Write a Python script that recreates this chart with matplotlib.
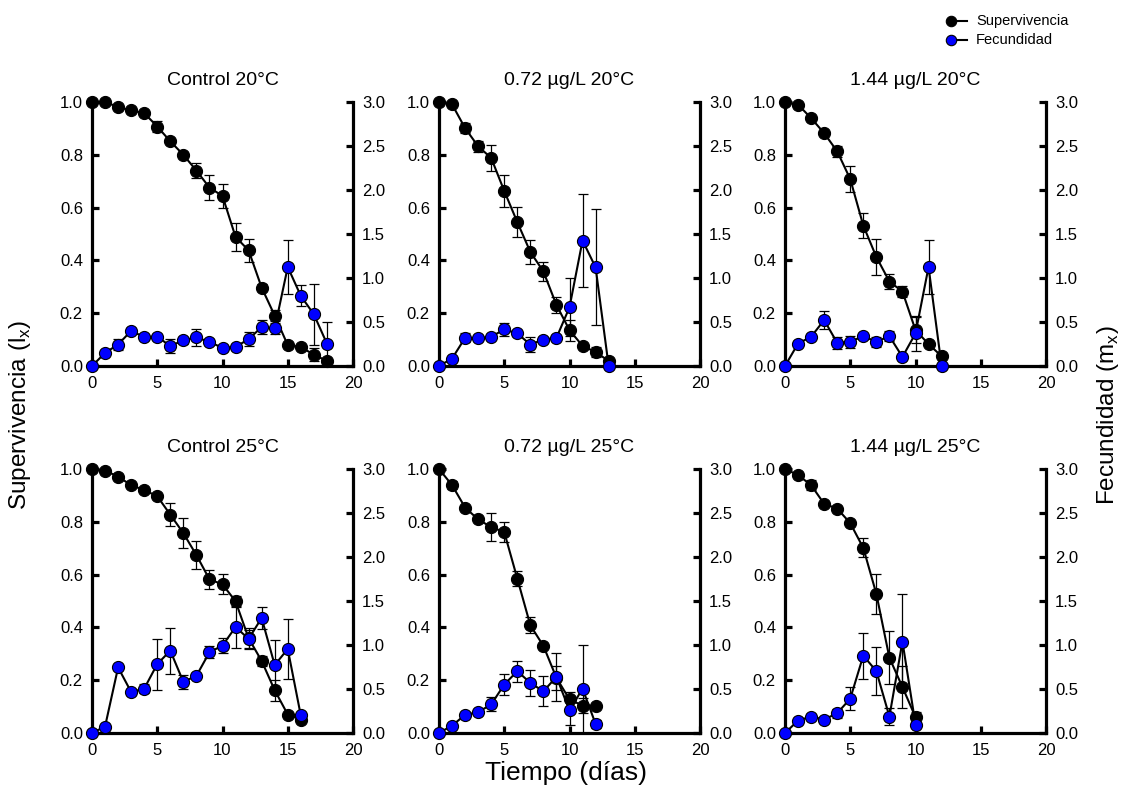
import matplotlib
matplotlib.use("Agg")
import matplotlib.pyplot as plt
import numpy as np
from matplotlib.lines import Line2D

plt.rcParams['font.family'] = ['Liberation Sans', 'DejaVu Sans']

titles = ["Control 20°C", "0.72 µg/L 20°C", "1.44 µg/L 20°C",
          "Control 25°C", "0.72 µg/L 25°C", "1.44 µg/L 25°C"]

# Survival (lx) per panel
surv_c20 = [1.0, 1.0, 0.981, 0.968, 0.958, 0.907, 0.851, 0.800, 0.740, 0.676, 0.644,
            0.489, 0.438, 0.297, 0.191, 0.079, 0.072, 0.043, 0.019]
surv_c20_err = [0, 0, 0.005, 0.005, 0.005, 0.02, 0.005, 0.012, 0.028, 0.048, 0.044,
                0.054, 0.044, 0.012, 0.02, 0.005, 0.005, 0.025, 0.005]
fec_c20 = [0.0, 0.149, 0.244, 0.40, 0.328, 0.335, 0.225, 0.294, 0.324, 0.274, 0.206,
           0.217, 0.305, 0.442, 0.427, 1.125, 0.797, 0.587, 0.255]
fec_c20_err = [0, 0.02, 0.06, 0.03, 0.03, 0.03, 0.08, 0.04, 0.10, 0.03, 0.03,
               0.03, 0.08, 0.08, 0.06, 0.31, 0.12, 0.35, 0.25]

surv_a20 = [1.0, 0.991, 0.901, 0.832, 0.788, 0.663, 0.545, 0.432, 0.358, 0.231, 0.136,
            0.076, 0.053, 0.019]
surv_a20_err = [0, 0.005, 0.02, 0.02, 0.05, 0.06, 0.056, 0.044, 0.036, 0.03, 0.04,
                0.005, 0.02, 0.005]
fec_a20 = [0.0, 0.084, 0.32, 0.313, 0.332, 0.416, 0.37, 0.244, 0.301, 0.32, 0.667,
           1.426, 1.121, 0.0]
fec_a20_err = [0, 0.02, 0.05, 0.03, 0.03, 0.07, 0.03, 0.08, 0.03, 0.03, 0.33,
               0.53, 0.66, 0]

surv_b20 = [1.0, 0.99, 0.939, 0.882, 0.813, 0.708, 0.532, 0.413, 0.32, 0.282, 0.136,
            0.083, 0.037]
surv_b20_err = [0, 0.005, 0.005, 0.005, 0.02, 0.048, 0.046, 0.068, 0.03, 0.02, 0.05,
                0.005, 0.005]
fec_b20 = [0.0, 0.255, 0.332, 0.522, 0.263, 0.275, 0.339, 0.275, 0.339, 0.103, 0.37,
           1.125, 0.0]
fec_b20_err = [0, 0.03, 0.03, 0.10, 0.07, 0.07, 0.03, 0.06, 0.06, 0.03, 0.20,
               0.31, 0]

surv_c25 = [1.0, 0.994, 0.971, 0.939, 0.92, 0.897, 0.827, 0.757, 0.674, 0.582, 0.563,
            0.499, 0.359, 0.273, 0.162, 0.07, 0.051]
surv_c25_err = [0, 0.005, 0.01, 0.005, 0.005, 0.005, 0.043, 0.057, 0.052, 0.037, 0.038,
                0.02, 0.04, 0.02, 0.04, 0.005, 0.005]
fec_c25 = [0.0, 0.073, 0.745, 0.466, 0.504, 0.783, 0.936, 0.581, 0.65, 0.917, 0.994,
           1.204, 1.07, 1.307, 0.772, 0.955, 0.199]
fec_c25_err = [0, 0.02, 0.03, 0.03, 0.05, 0.29, 0.26, 0.08, 0.03, 0.07, 0.09,
               0.235, 0.10, 0.13, 0.28, 0.34, 0.03]

surv_a25 = [1.0, 0.939, 0.854, 0.809, 0.78, 0.761, 0.585, 0.408, 0.33, 0.209, 0.127,
            0.104, 0.102]
surv_a25_err = [0, 0.015, 0.005, 0.005, 0.052, 0.038, 0.03, 0.03, 0.005, 0.045, 0.03,
                0.03, 0.005]
fec_a25 = [0.0, 0.084, 0.206, 0.237, 0.325, 0.55, 0.703, 0.569, 0.474, 0.638, 0.256,
           0.504, 0.103]
fec_a25_err = [0, 0.02, 0.02, 0.03, 0.08, 0.12, 0.12, 0.15, 0.17, 0.27, 0.17,
               0.50, 0.05]

surv_b25 = [1.0, 0.977, 0.939, 0.868, 0.85, 0.795, 0.701, 0.527, 0.285, 0.174, 0.06]
surv_b25_err = [0, 0.005, 0.02, 0.005, 0.01, 0.005, 0.036, 0.076, 0.10, 0.08, 0.02]
fec_b25 = [0.0, 0.141, 0.187, 0.153, 0.225, 0.39, 0.879, 0.703, 0.187, 1.039, 0.096]
fec_b25_err = [0, 0.02, 0.03, 0.03, 0.05, 0.13, 0.26, 0.27, 0.10, 0.54, 0.03]

survs = [surv_c20, surv_a20, surv_b20, surv_c25, surv_a25, surv_b25]
surv_errs = [surv_c20_err, surv_a20_err, surv_b20_err, surv_c25_err, surv_a25_err, surv_b25_err]
fecs = [fec_c20, fec_a20, fec_b20, fec_c25, fec_a25, fec_b25]
fec_errs = [fec_c20_err, fec_a20_err, fec_b20_err, fec_c25_err, fec_a25_err, fec_b25_err]

W, H = 1126, 789
fig = plt.figure(figsize=(W / 100, H / 100), dpi=100)

lefts = [92, 439, 785]
tops = [102, 469]
aw, ah = 261, 264

spine_w = 2.3
ms = 8.7
tick_fs = 12

for i in range(6):
    r, c = divmod(i, 3)
    l = lefts[c]
    t = tops[r]
    ax = fig.add_axes([l / W, 1 - (t + ah) / H, aw / W, ah / H])
    ax2 = ax.twinx()
    x = np.arange(len(survs[i]))
    ax.errorbar(x, survs[i], yerr=surv_errs[i], fmt='none', ecolor='black',
                elinewidth=0.9, capsize=3.6, capthick=0.9, clip_on=False, zorder=2)
    ax.plot(x, survs[i], '-o', color='black', lw=1.5, markersize=ms,
            markerfacecolor='black', markeredgecolor='black', markeredgewidth=0.8,
            clip_on=False, zorder=3)
    ax2.errorbar(x, fecs[i], yerr=fec_errs[i], fmt='none', ecolor='black',
                 elinewidth=0.9, capsize=3.6, capthick=0.9, clip_on=False, zorder=2)
    ax2.plot(x, fecs[i], '-o', color='black', lw=1.5, markersize=ms,
             markerfacecolor='#0000ff', markeredgecolor='black', markeredgewidth=0.8,
             clip_on=False, zorder=3)
    ax.set_xlim(0, 20)
    ax.set_ylim(0, 1.0)
    ax2.set_ylim(0, 3.0)
    ax.set_xticks([0, 5, 10, 15, 20])
    ax.set_yticks([0, 0.2, 0.4, 0.6, 0.8, 1.0])
    ax.set_yticklabels(["0.0", "0.2", "0.4", "0.6", "0.8", "1.0"])
    ax2.set_yticks([0, 0.5, 1.0, 1.5, 2.0, 2.5, 3.0])
    ax2.set_yticklabels(["0.0", "0.5", "1.0", "1.5", "2.0", "2.5", "3.0"])
    for a in (ax, ax2):
        a.spines['top'].set_visible(False)
        for s in ('left', 'right', 'bottom'):
            a.spines[s].set_linewidth(spine_w)
        a.tick_params(direction='in', length=5, width=spine_w, labelsize=tick_fs, pad=6.5)
    ax.spines['right'].set_visible(False)
    ax2.spines['left'].set_visible(False)
    ax2.spines['bottom'].set_visible(False)
    ax.tick_params(axis='x', pad=7)
    ax.set_title(titles[i], fontsize=14, pad=12)

fig.text(20 / W, 1 - 415 / H, "Supervivencia (l$_\\mathregular{x}$)", rotation=90,
         fontsize=17.5, ha='center', va='center')
fig.text(1108 / W, 1 - 415 / H, "Fecundidad (m$_\\mathregular{x}$)", rotation=90,
         fontsize=17.5, ha='center', va='center')
fig.text(566 / W, 1 - 773 / H, "Tiempo (días)", fontsize=19, ha='center', va='center')

# legend
for yy, fc, lab in [(21, 'black', 'Supervivencia'), (40, '#0000ff', 'Fecundidad')]:
    fig.add_artist(Line2D([951 / W, 967 / W], [1 - yy / H, 1 - yy / H], color='black', lw=1.5))
    fig.add_artist(Line2D([951 / W], [1 - yy / H], marker='o', markersize=7.5,
                          markerfacecolor=fc, markeredgecolor='black', markeredgewidth=0.8))
    fig.text(976 / W, 1 - yy / H, lab, fontsize=10.5, ha='left', va='center')

fig.savefig("out.png", dpi=100)
